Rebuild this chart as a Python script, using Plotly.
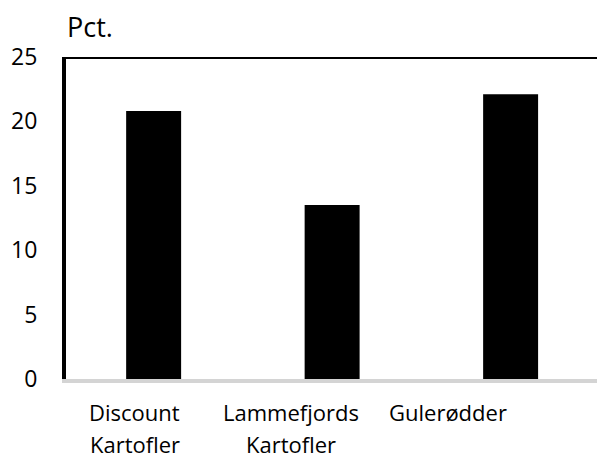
import plotly.graph_objects as go

# Share of samples (pct.) per product
categories = ["Discount<br>Kartofler", "Lammefjords<br>Kartofler", "Gulerødder"]
values = [20.8, 13.5, 22.1]
y_ticks = [0, 5, 10, 15, 20, 25]
y_unit = "Pct."

FONT = "Open Sans"
LABEL_SCALE = 0.877   # label row is laid out slightly narrower than the bar row
LABEL_OFFSET = -0.106
LINE_STEP = 32        # px between label lines

fig = go.Figure(
    go.Bar(
        x=list(range(len(categories))),
        y=values,
        marker=dict(color="black", line=dict(width=0)),
        width=0.308,
    )
)

annotations = [
    dict(
        text=y_unit,
        xref="paper",
        yref="paper",
        x=0,
        y=1,
        xanchor="left",
        yanchor="bottom",
        xshift=-1,
        yshift=10,
        showarrow=False,
        font=dict(size=27, family=FONT, color="black"),
    )
]

# category names under the bars, one annotation per text line
for i, name in enumerate(categories):
    for k, line in enumerate(name.split("<br>")):
        annotations.append(
            dict(
                text=line,
                xref="x",
                yref="paper",
                x=i * LABEL_SCALE + LABEL_OFFSET,
                y=0,
                xanchor="center",
                yanchor="top",
                yshift=-16 - k * LINE_STEP,
                showarrow=False,
                font=dict(size=22, family=FONT, color="black"),
            )
        )

fig.update_layout(
    width=597,
    height=457,
    margin=dict(l=66, r=0, t=57, b=78),
    paper_bgcolor="white",
    plot_bgcolor="white",
    showlegend=False,
    font=dict(family=FONT, color="black"),
    xaxis=dict(
        range=[-0.491, 2.484],
        showticklabels=False,
        showgrid=False,
        zeroline=False,
        showline=True,
        linecolor="#d4d4d4",
        linewidth=4,
        ticks="",
    ),
    yaxis=dict(
        range=[0, 25],
        tickvals=y_ticks,
        showgrid=False,
        zeroline=False,
        showline=True,
        linecolor="black",
        linewidth=4,
        ticks="",
        tickfont=dict(size=23, family=FONT, color="black"),
        ticklabelstandoff=20,
    ),
    shapes=[
        dict(
            type="line",
            xref="paper",
            yref="y",
            x0=-0.0075,
            x1=1,
            y0=25,
            y1=25,
            line=dict(color="black", width=4),
        )
    ],
    annotations=annotations,
)

fig.write_html("out.html")
